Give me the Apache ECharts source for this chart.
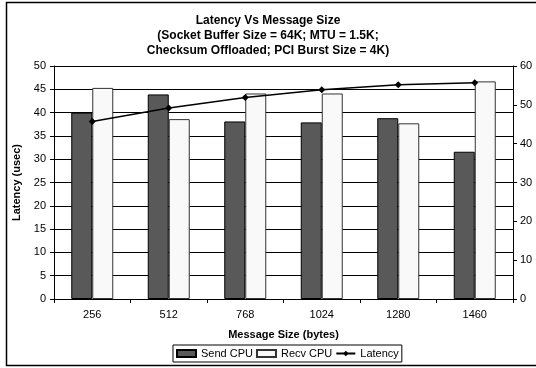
<!DOCTYPE html>
<html>
<head>
<meta charset="utf-8">
<script src="https://cdn.jsdelivr.net/npm/echarts@6/dist/echarts.min.js"></script>
<style>
  html, body { margin: 0; padding: 0; background: #fff; }
  #chart { width: 536px; height: 368px; }
</style>
</head>
<body>
<div id="chart"></div>
<script>
// Message sizes (bytes) along the x axis
const messageSizes = ['256', '512', '768', '1024', '1280', '1460'];
// CPU utilisation on the sending and receiving hosts (left axis)
const sendCpu = [40.0, 43.9, 38.1, 37.9, 38.8, 31.6];
const recvCpu = [45.3, 38.6, 44.1, 44.1, 37.7, 46.7];
// Measured latency (right axis)
const latency = [45.7, 49.2, 51.9, 53.9, 55.2, 55.7];

const FONT = 'Liberation Sans, Arial, sans-serif';
const chart = echarts.init(document.getElementById('chart'), null, { renderer: 'canvas' });

chart.setOption({
  backgroundColor: '#fff',
  animation: false,
  textStyle: { fontFamily: FONT, color: '#000' },
  graphic: [{
    type: 'rect',
    shape: { x: 6.5, y: 2.5, width: 540, height: 363 },
    style: { fill: 'none', stroke: '#000', lineWidth: 1.5 },
    z: 100
  }],
  title: {
    text: 'Latency Vs Message Size\n(Socket Buffer Size = 64K; MTU = 1.5K;\nChecksum Offloaded; PCI Burst Size = 4K)',
    left: 'center',
    top: 13,
    padding: 0,
    textStyle: { fontFamily: FONT, fontSize: 12, fontWeight: 'bold', lineHeight: 15, color: '#000' }
  },
  legend: {
    left: 173,
    top: 345,
    padding: [3, 3, 3, 3],
    itemGap: 3,
    itemWidth: 19,
    itemHeight: 7,
    borderColor: '#000',
    borderWidth: 1,
    textStyle: { fontFamily: FONT, fontSize: 11, color: '#000' },
    data: [
      { name: 'Send CPU', icon: 'rect' },
      { name: 'Recv CPU', icon: 'rect' },
      { name: 'Latency' }
    ]
  },
  grid: { left: 54, right: 23, top: 66, bottom: 69 },
  xAxis: {
    type: 'category',
    data: messageSizes,
    name: 'Message Size (bytes)',
    nameLocation: 'middle',
    nameGap: 30,
    nameTextStyle: { fontFamily: FONT, fontSize: 11, fontWeight: 'bold', color: '#000' },
    axisLine: { lineStyle: { color: '#000', width: 1 } },
    axisTick: { show: true, length: 4, lineStyle: { color: '#000' } },
    axisLabel: { fontFamily: FONT, fontSize: 11, color: '#000', margin: 10 }
  },
  yAxis: [{
    type: 'value',
    min: 0, max: 50, interval: 5,
    name: 'Latency (usec)',
    nameLocation: 'middle',
    nameGap: 27,
    nameTextStyle: { fontFamily: FONT, fontSize: 11, fontWeight: 'bold', color: '#000' },
    axisLine: { show: true, lineStyle: { color: '#000', width: 1 } },
    axisTick: { show: true, length: 4, lineStyle: { color: '#000' } },
    axisLabel: { fontFamily: FONT, fontSize: 11, color: '#000', margin: 8 },
    splitLine: { show: true, lineStyle: { color: '#000', width: 1 } }
  }, {
    type: 'value',
    min: 0, max: 60, interval: 10,
    position: 'right',
    axisLine: { show: true, lineStyle: { color: '#000', width: 1 } },
    axisTick: { show: true, length: 4, lineStyle: { color: '#000' } },
    axisLabel: { fontFamily: FONT, fontSize: 11, color: '#000', margin: 7 },
    splitLine: { show: false }
  }],
  series: [{
    name: 'Send CPU',
    type: 'bar',
    data: sendCpu,
    barWidth: 21,
    barGap: '0%',
    itemStyle: { color: '#595959', borderColor: '#000', borderWidth: 1 }
  }, {
    name: 'Recv CPU',
    type: 'bar',
    data: recvCpu,
    barWidth: 21,
    barGap: '0%',
    itemStyle: { color: '#f9f9f9', borderColor: '#333', borderWidth: 1 }
  }, {
    name: 'Latency',
    type: 'line',
    yAxisIndex: 1,
    data: latency,
    symbol: 'diamond',
    symbolSize: 7,
    lineStyle: { color: '#000', width: 1.5 },
    itemStyle: { color: '#000' },
    z: 5
  }]
});
</script>
</body>
</html>
